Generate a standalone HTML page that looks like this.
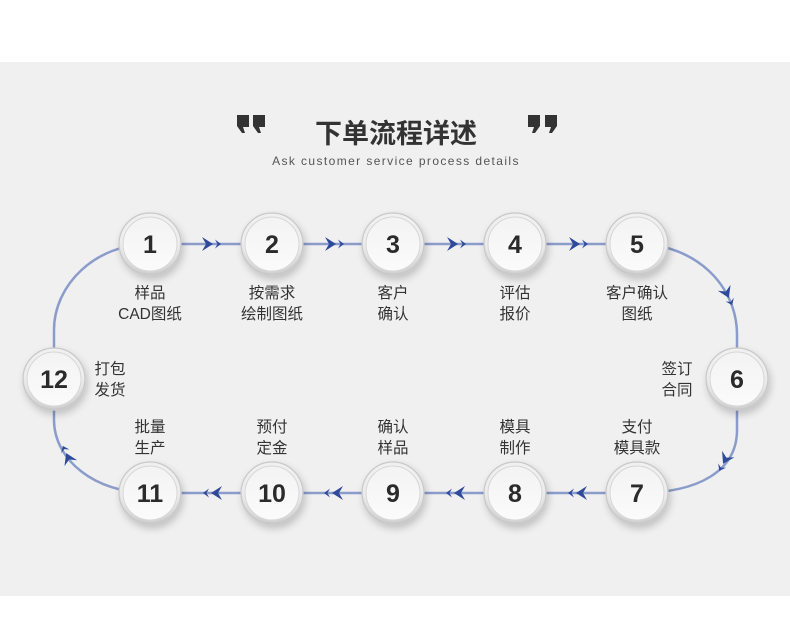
<!DOCTYPE html>
<html><head><meta charset="utf-8"><style>
html,body{margin:0;padding:0;background:#fff;}
body{width:790px;height:623px;position:relative;overflow:hidden;font-family:"Liberation Sans","Noto Sans CJK SC",sans-serif;}
.band{position:absolute;left:0;top:62px;width:790px;height:534px;background:#f0f0f0;}
svg{position:absolute;left:0;top:0;}
</style></head><body>
<div class="band"></div>
<svg width="790" height="623" viewBox="0 0 790 623" xmlns="http://www.w3.org/2000/svg">
<defs>
<radialGradient id="ring" cx="50%" cy="40%" r="60%">
<stop offset="0" stop-color="#ffffff"/><stop offset="0.8" stop-color="#ececec"/><stop offset="1" stop-color="#c4c4c4"/>
</radialGradient>
<linearGradient id="face" x1="0" y1="0" x2="0" y2="1">
<stop offset="0" stop-color="#f3f3f3"/><stop offset="1" stop-color="#fbfbfb"/>
</linearGradient>
<filter id="sh" x="-50%" y="-50%" width="200%" height="200%"><feGaussianBlur in="SourceAlpha" stdDeviation="4"/><feOffset dy="4" dx="2"/><feComponentTransfer><feFuncA type="linear" slope="0.2"/></feComponentTransfer><feMerge><feMergeNode/><feMergeNode in="SourceGraphic"/></feMerge></filter>
<g id="c"><circle r="31" fill="url(#ring)" stroke="#c8c8c8" stroke-width="1.2" filter="url(#sh)"/><circle r="27" fill="url(#face)" stroke="#d6d6d6" stroke-width="1"/></g>
<g id="ar"><path d="M-9,-7 L2,0 L-9,7 L-5,0 Z" fill="#2f4a9a"/><path d="M4,-4.5 L10,0 L4,4.5 L6.5,0 Z" fill="#2f4a9a"/></g>
</defs>
<g fill="none" stroke="#8b9ccb" stroke-width="2.5">
<path d="M150,244 L637,244 C695,244 737,285 737,335 L737,430 C737,470 700,493 637,493 L150,493 C95,493 54,460 54,420 L54,330 C54,285 95,244 150,244"/>
</g>
<use href="#ar" transform="translate(211,244)"/>
<use href="#ar" transform="translate(334,244)"/>
<use href="#ar" transform="translate(456,244)"/>
<use href="#ar" transform="translate(578,244)"/>
<use href="#ar" transform="translate(213,493) rotate(180)"/>
<use href="#ar" transform="translate(334,493) rotate(180)"/>
<use href="#ar" transform="translate(456,493) rotate(180)"/>
<use href="#ar" transform="translate(578,493) rotate(180)"/>
<use href="#ar" transform="translate(728,296) rotate(65)"/>
<use href="#ar" transform="translate(724,462) rotate(118)"/>
<use href="#ar" transform="translate(67,455) rotate(-115)"/>
<g font-family="'Liberation Sans','Noto Sans CJK SC',sans-serif" font-weight="bold" font-size="25" fill="#2b2b2b" text-anchor="middle">
<use href="#c" x="150" y="244"/><text x="150" y="253">1</text>
<use href="#c" x="272" y="244"/><text x="272" y="253">2</text>
<use href="#c" x="393" y="244"/><text x="393" y="253">3</text>
<use href="#c" x="515" y="244"/><text x="515" y="253">4</text>
<use href="#c" x="637" y="244"/><text x="637" y="253">5</text>
<use href="#c" x="737" y="379"/><text x="737" y="388">6</text>
<use href="#c" x="637" y="493"/><text x="637" y="502">7</text>
<use href="#c" x="515" y="493"/><text x="515" y="502">8</text>
<use href="#c" x="393" y="493"/><text x="393" y="502">9</text>
<use href="#c" x="272" y="493"/><text x="272" y="502">10</text>
<use href="#c" x="150" y="493"/><text x="150" y="502">11</text>
<use href="#c" x="54" y="379"/><text x="54" y="388">12</text>
</g>
<g font-family="'Liberation Sans','Noto Sans CJK SC',sans-serif" font-size="15.5" fill="#333" text-anchor="middle">
<text x="150" y="298">样品</text><text x="150" y="319">CAD图纸</text>
<text x="272" y="298">按需求</text><text x="272" y="319">绘制图纸</text>
<text x="393" y="298">客户</text><text x="393" y="319">确认</text>
<text x="515" y="298">评估</text><text x="515" y="319">报价</text>
<text x="637" y="298">客户确认</text><text x="637" y="319">图纸</text>
<text x="150" y="432">批量</text><text x="150" y="453">生产</text>
<text x="272" y="432">预付</text><text x="272" y="453">定金</text>
<text x="393" y="432">确认</text><text x="393" y="453">样品</text>
<text x="515" y="432">模具</text><text x="515" y="453">制作</text>
<text x="637" y="432">支付</text><text x="637" y="453">模具款</text>
<text x="677" y="374">签订</text><text x="677" y="395">合同</text>
<text x="110" y="374">打包</text><text x="110" y="395">发货</text>
</g>
<g fill="#333">
<path d="M237,115 h12 v11 l-5,7 h-3 l2,-6 h-6 Z" transform="translate(486,0) scale(-1,1)"/>
<path d="M253,115 h12 v11 l-5,7 h-3 l2,-6 h-6 Z" transform="translate(518,0) scale(-1,1)"/>
<path d="M528,115 h12 v11 l-5,7 h-3 l2,-6 h-6 Z"/>
<path d="M545,115 h12 v11 l-5,7 h-3 l2,-6 h-6 Z"/>
</g>
<text x="396" y="143" text-anchor="middle" font-family="'Liberation Sans','Noto Sans CJK SC',sans-serif" font-weight="bold" font-size="27" fill="#333">下单流程详述</text>
<text x="396" y="165" text-anchor="middle" font-family="'Liberation Sans',sans-serif" font-size="12" letter-spacing="1.4" fill="#555">Ask customer service process details</text>
</svg>
</body></html>
